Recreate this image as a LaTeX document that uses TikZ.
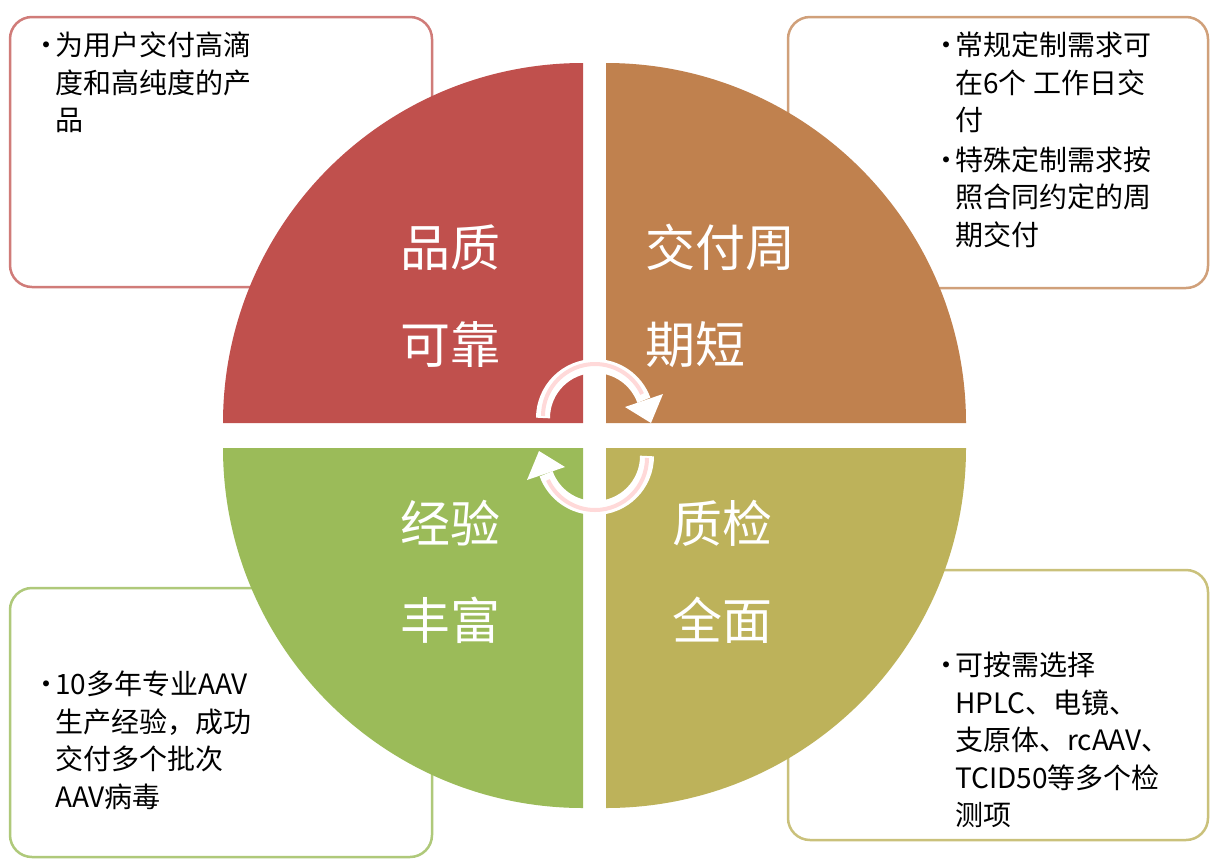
\documentclass[tikz,border=0pt]{standalone}
\usepackage{fontspec}
\setmainfont{Noto Sans CJK SC}
\usetikzlibrary{arrows.meta}
\definecolor{cr}{HTML}{C0504D}
\definecolor{co}{HTML}{C0814E}
\definecolor{cg}{HTML}{9BBB59}
\definecolor{cy}{HTML}{BDB25A}
\newcommand{\bul}{\makebox[23pt][l]{•}}
\newcommand{\ind}{\hspace*{23pt}}
\begin{document}
\begin{tikzpicture}[x=1pt,y=-1pt,
  box/.style={draw,line width=2.5pt,rounded corners=22pt,fill=white},
  txt/.style={anchor=north west,align=left,font=\fontsize{28}{37.5}\selectfont,inner sep=0pt},
  big/.style={text=white,font=\fontsize{50}{97}\selectfont,align=left,anchor=west,inner sep=0pt},
  arc/.style={white,line width=14pt},
  arcin/.style={red!15,line width=4pt}]
\useasboundingbox (0,0) rectangle (1220,860);
\fill[white] (0,0) rectangle (1220,860);
% boxes
\draw[box,draw=cr!75] (10,17) rectangle (432,287);
\draw[box,draw=co!75] (788,17) rectangle (1208,288);
\draw[box,draw=cg!80] (10,588) rectangle (432,857);
\draw[box,draw=cy!80] (788,570) rectangle (1208,840);
% quadrants
\fill[cr] (583,423) -- (223,423) arc[start angle=180,end angle=270,radius=360] -- cycle;
\fill[co] (606,423) -- (606,63) arc[start angle=270,end angle=360,radius=360] -- cycle;
\fill[cg] (583,448) -- (583,808) arc[start angle=90,end angle=180,radius=360] -- cycle;
\fill[cy] (606,448) -- (966,448) arc[start angle=0,end angle=90,radius=360] -- cycle;
% texts in boxes
\node[txt] (t1) at (32,32) {\bul 为用户交付高滴\\\ind 度和高纯度的产\\\ind 品};
\node[txt] (t2) at (932,32) {\bul 常规定制需求可\\\ind 在6个 工作日交\\\ind 付\\[2pt]\bul 特殊定制需求按\\\ind 照合同约定的周\\\ind 期交付};
\node[txt] (t3) at (32,671) {\bul 10多年专业AAV\\\ind 生产经验，成功\\\ind 交付多个批次\\\ind AAV病毒};
\node[txt] (t4) at (932,652) {\bul 可按需选择\\\ind HPLC、电镜、\\\ind 支原体、rcAAV、\\\ind TCID50等多个检\\\ind 测项};
% big labels
\node[big] (q1) at (400,296) {品质\\可靠};
\node[big] (q2) at (645,296) {交付周\\期短};
\node[big] (q3) at (400,572) {经验\\丰富};
\node[big] (q4) at (672,572) {质检\\全面};
% cycle arrows
\draw[arc] (543,418) arc[start angle=180,end angle=340,radius=52];
\fill[white] (663,394) -- (625,407) -- (651,423) -- cycle;
\draw[arcin] (543,416) arc[start angle=180,end angle=335,radius=52];
\draw[arc] (647,456) arc[start angle=0,end angle=160,radius=52];
\fill[white] (527,480) -- (565,467) -- (539,451) -- cycle;
\draw[arcin] (647,458) arc[start angle=0,end angle=155,radius=52];
\end{tikzpicture}
\end{document}
